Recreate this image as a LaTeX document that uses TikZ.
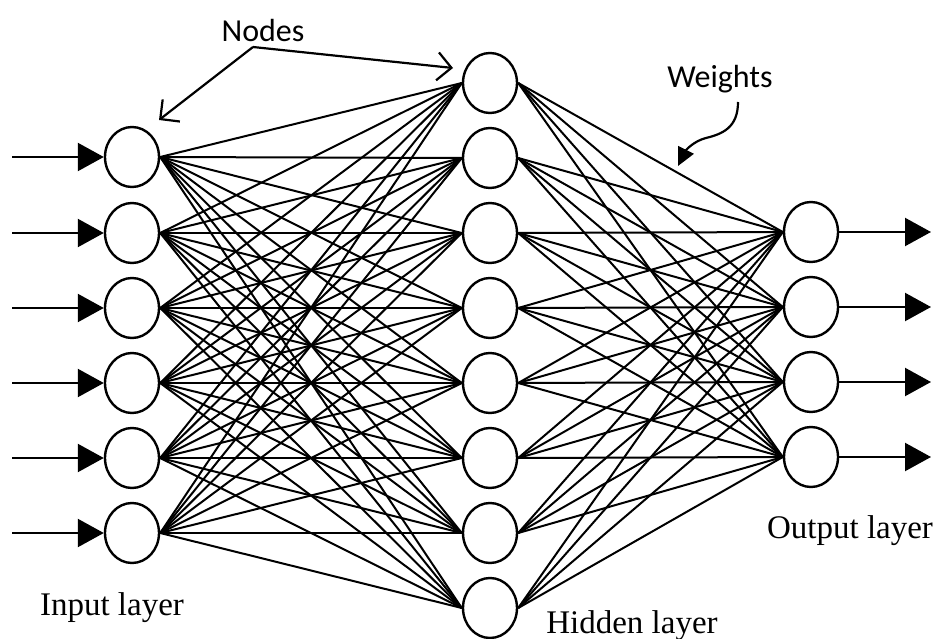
\documentclass[tikz,border=0pt]{standalone}
\usepackage{fontspec}
\setmainfont{Liberation Serif}
\newfontfamily\calib{Carlito}
\usetikzlibrary{shapes.geometric,arrows.meta}
\begin{document}
\begin{tikzpicture}[x=1pt,y=-1pt,
  neuron/.style={ellipse,draw,line width=2.4pt,minimum width=54pt,minimum height=60pt,inner sep=0pt,fill=white},
  conn/.style={line width=2pt},
  inarrow/.style={line width=2.2pt,-{Triangle[length=26pt,width=28pt]}},
  callout/.style={line width=2.2pt,-{Straight Barb[length=14pt,width=28pt,line width=2.2pt]}},
  layerlabel/.style={anchor=base,font=\fontsize{33}{36}\selectfont,inner sep=0pt},
  sanslabel/.style={anchor=base,font=\calib\fontsize{32}{36}\selectfont,inner sep=0pt}]
\useasboundingbox (0,0) rectangle (939,639);
% nodes
\foreach \k/\y in {1/157,2/233,3/308,4/383,5/458,6/533}
  \node[neuron] (i\k) at (132,\y) {};
\foreach \k/\y in {1/83,2/158,3/233,4/308,5/383,6/458,7/533,8/608}
  \node[neuron] (h\k) at (490,\y) {};
\foreach \k/\y in {1/232,2/307,3/382,4/457}
  \node[neuron] (o\k) at (811,\y) {};
% connections
\foreach \a in {1,...,6}
  \foreach \b in {1,...,8}
    \draw[conn] (i\a.east) -- (h\b.west);
\foreach \a in {1,...,8}
  \foreach \b in {1,...,4}
    \draw[conn] (h\a.east) -- (o\b.west);
% input arrows
\foreach \k/\y in {1/157,2/233,3/308,4/383,5/458,6/533}{
  \coordinate (s\k) at (12,\y);
  \draw[inarrow] (s\k) -- (i\k.west);
}
% output arrows
\foreach \k/\y in {1/232,2/307,3/382,4/457}{
  \coordinate (e\k) at (931,\y);
  \draw[inarrow] (o\k.east) -- (e\k);
}
% labels
\node[layerlabel] (lin) at (112,615) {Input layer};
\node[layerlabel] (lhid) at (632,633) {Hidden layer};
\node[layerlabel] (lout) at (850,538) {Output layer};
\node[sanslabel] (lnodes) at (263,42) {Nodes};
\node[sanslabel] (lweights) at (720,88) {Weights};
% Nodes callout
\coordinate (nstart) at (253,47);
\coordinate (ntipA) at (159,120);
\coordinate (ntipB) at (453,68);
\draw[callout] (nstart) -- (ntipA);
\draw[callout] (nstart) -- (ntipB);
% Weights callout
\coordinate (wstart) at (738,102);
\coordinate (wtip) at (678,166);
\draw[line width=2.2pt,-{Triangle[length=18pt,width=17pt]}] (wstart) .. controls (738,128) and (722,134) .. (706,138) .. controls (694,141) and (686,150) .. (wtip);
\end{tikzpicture}
\end{document}
